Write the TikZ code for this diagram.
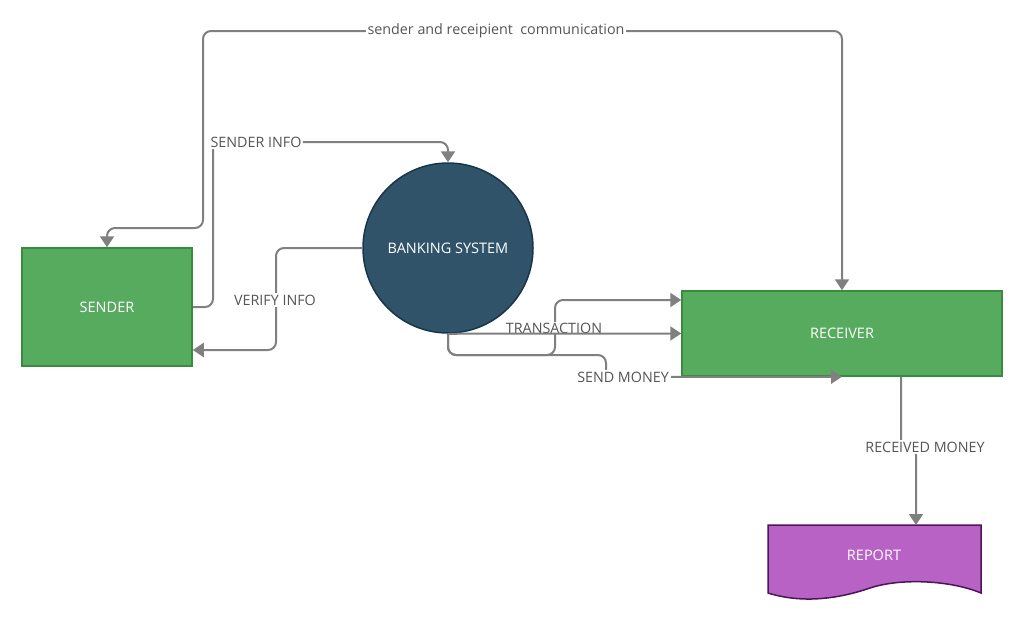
\documentclass[tikz,border=0pt]{standalone}
\usepackage{fontspec}
\setmainfont{Open Sans}
\usetikzlibrary{arrows.meta}
\definecolor{boxgreen}{HTML}{57AB5F}
\definecolor{greenborder}{HTML}{3A8A42}
\definecolor{bankblue}{HTML}{30536A}
\definecolor{bankborder}{HTML}{18354A}
\definecolor{reportpurple}{HTML}{B862C6}
\definecolor{reportborder}{HTML}{4B1557}
\definecolor{linegray}{HTML}{808080}
\definecolor{labelgray}{HTML}{555555}
\begin{document}
\begin{tikzpicture}[x=1pt,y=-1pt,
    flow/.style={draw=linegray,line width=2pt,rounded corners=8pt,-{Triangle[length=11pt,width=14pt]}},
    box/.style={draw=greenborder,line width=1.5pt,fill=boxgreen,text=white,font=\fontsize{14.5}{17}\selectfont},
    lbl/.style={fill=white,text=labelgray,font=\fontsize{14.3}{17}\selectfont,inner sep=2pt}]
  \useasboundingbox (0,0) rectangle (1024,622);
  \node[box,minimum width=170pt,minimum height=118pt] (sender) at (107,307) {SENDER};
  \node[circle,fill=bankblue,draw=bankborder,line width=1.5pt,minimum size=170pt,text=white,
    font=\fontsize{14.5}{17}\selectfont] (bank) at (448,248) {BANKING SYSTEM};
  \node[box,minimum width=320pt,minimum height=85pt] (receiver) at (842,333.5) {RECEIVER};
  \draw[fill=reportpurple,draw=reportborder,line width=1.5pt] (768,525) -- (981,525) -- (981,593)
    .. controls (950,580) and (900,578) .. (870,588) .. controls (835,600) and (800,603) .. (768,593) -- cycle;
  \node[text=white,font=\fontsize{14.5}{17}\selectfont] (report) at (874,555) {REPORT};
  \coordinate (reptop) at (916,525);
  \draw[flow,{Triangle[length=11pt,width=14pt]}-{Triangle[length=11pt,width=14pt]}] (sender.north) -- (107,228) -- (203,228) -- (203,31) -- (842,31) -- (receiver.north);
  \node[lbl] at (496,31) {sender and receipient~~communication};
  \draw[flow] (sender.east) -- (213,307) -- (213,142) -- (448,142) -- (bank.north);
  \node[lbl] at (256,142) {SENDER INFO};
  \draw[flow] (bank.west) -- (276,248) -- (276,350) -- (sender.east |- 0,350);
  \node[lbl] at (275,300) {VERIFY INFO};
  \draw[flow] (bank.south) -- (448,355) -- (555,355) -- (555,300) -- (receiver.west |- 0,300);
  \node[lbl,inner sep=1pt] at (554,328) {TRANSACTION};
  \draw[flow] (bank.south) -- (receiver.west);
  \draw[flow] (bank.south) -- (448,355) -- (606,355) -- (606,377) -- (receiver.south);
  \node[lbl] at (623,377) {SEND MONEY};
  \draw[flow] (receiver.south -| 901,0) -- (901,447) -- (916,447) -- (reptop);
  \node[lbl] at (925,447) {RECEIVED MONEY};
\end{tikzpicture}
\end{document}
